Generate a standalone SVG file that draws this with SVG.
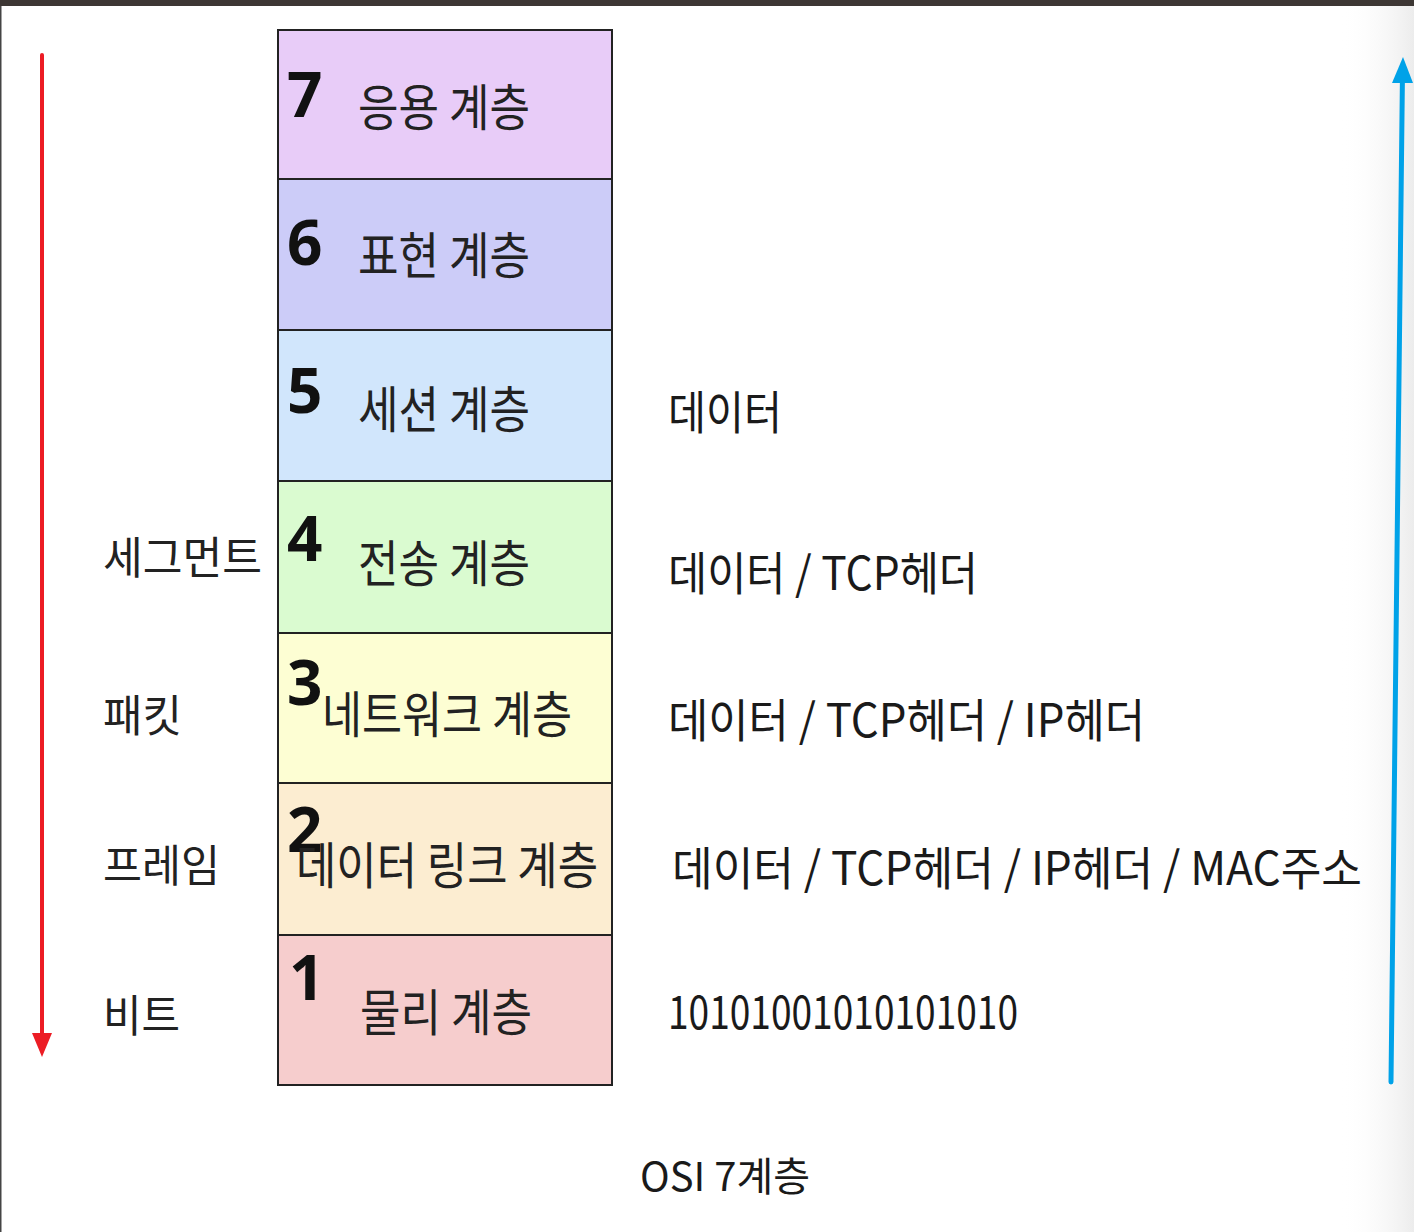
<svg xmlns="http://www.w3.org/2000/svg" width="1414" height="1232" viewBox="0 0 1414 1232">
  <defs>
    <style>
      .layer { stroke: #222; stroke-width: 2; }
      .num { font-family: "Noto Sans", "Liberation Sans", sans-serif; font-weight: bold; font-size: 62px; fill: #111; }
      .name { font-family: "Noto Sans CJK KR", "Noto Sans", sans-serif; font-size: 50px; fill: #222; }
      .side { font-family: "Noto Sans CJK KR", "Noto Sans", sans-serif; font-size: 44px; fill: #222; }
      .data { font-family: "Noto Sans CJK KR", "Noto Sans", sans-serif; font-size: 46px; fill: #1a1a1a; }
      .cap { font-family: "Noto Sans CJK KR", "Noto Sans", sans-serif; font-size: 40px; fill: #1a1a1a; }
    </style>
    <linearGradient id="edge" x1="0" y1="0" x2="1" y2="0">
      <stop offset="0" stop-color="#ffffff" stop-opacity="0"/>
      <stop offset="1" stop-color="#ececec" stop-opacity="1"/>
    </linearGradient>
  </defs>

  <rect x="0" y="0" width="1414" height="1232" fill="#ffffff"/>
  <rect x="1340" y="6" width="74" height="1226" fill="url(#edge)"/>
  <rect x="0" y="0" width="1414" height="6" fill="#3d3734"/>
  <rect x="0" y="6" width="1.5" height="1226" fill="#444"/>

  <g id="layer7">
    <rect class="layer" x="278" y="30" width="334" height="149" fill="#e8ccf8"/>
    <text class="num" x="287" y="117">7</text>
    <text class="name" x="358" y="126" textLength="172" lengthAdjust="spacingAndGlyphs">응용 계층</text>
  </g>
  <g id="layer6">
    <rect class="layer" x="278" y="179" width="334" height="151" fill="#ccccf8"/>
    <text class="num" x="287" y="265">6</text>
    <text class="name" x="358" y="274" textLength="172" lengthAdjust="spacingAndGlyphs">표현 계층</text>
  </g>
  <g id="layer5">
    <rect class="layer" x="278" y="330" width="334" height="151" fill="#d1e6fc"/>
    <text class="num" x="287" y="413">5</text>
    <text class="name" x="358" y="428" textLength="172" lengthAdjust="spacingAndGlyphs">세션 계층</text>
  </g>
  <g id="layer4">
    <rect class="layer" x="278" y="481" width="334" height="152" fill="#dafbd0"/>
    <text class="num" x="287" y="561">4</text>
    <text class="name" x="358" y="582" textLength="172" lengthAdjust="spacingAndGlyphs">전송 계층</text>
  </g>
  <g id="layer3">
    <rect class="layer" x="278" y="633" width="334" height="150" fill="#fdfed3"/>
    <text class="num" x="287" y="705">3</text>
    <text class="name" x="322" y="733" textLength="250" lengthAdjust="spacingAndGlyphs">네트워크 계층</text>
  </g>
  <g id="layer2">
    <rect class="layer" x="278" y="783" width="334" height="152" fill="#fcedd1"/>
    <text class="num" x="287" y="852">2</text>
    <text class="name" x="296" y="884" textLength="302" lengthAdjust="spacingAndGlyphs">데이터 링크 계층</text>
  </g>
  <g id="layer1">
    <rect class="layer" x="278" y="935" width="334" height="150" fill="#f6cdcd"/>
    <text class="num" x="289" y="1000">1</text>
    <text class="name" x="360" y="1031" textLength="172" lengthAdjust="spacingAndGlyphs">물리 계층</text>
  </g>

  <g id="pdu-labels">
    <text class="side" x="103" y="574" textLength="159" lengthAdjust="spacingAndGlyphs">세그먼트</text>
    <text class="side" x="103" y="732" textLength="79" lengthAdjust="spacingAndGlyphs">패킷</text>
    <text class="side" x="103" y="882" textLength="117" lengthAdjust="spacingAndGlyphs">프레임</text>
    <text class="side" x="103" y="1032" textLength="77" lengthAdjust="spacingAndGlyphs">비트</text>
  </g>

  <g id="data-labels">
    <text class="data" x="668" y="429" textLength="114" lengthAdjust="spacingAndGlyphs">데이터</text>
    <text class="data" x="668" y="590" textLength="310" lengthAdjust="spacingAndGlyphs">데이터 / TCP헤더</text>
    <text class="data" x="668" y="737" textLength="477" lengthAdjust="spacingAndGlyphs">데이터 / TCP헤더 / IP헤더</text>
    <text class="data" x="672" y="885" textLength="690" lengthAdjust="spacingAndGlyphs">데이터 / TCP헤더 / IP헤더 / MAC주소</text>
    <text class="data" x="668" y="1029" font-size="52" textLength="350" lengthAdjust="spacingAndGlyphs">10101001010101010</text>
  </g>

  <g id="connectors">
    <line x1="42" y1="55" x2="42" y2="1036" stroke="#ec1c24" stroke-width="4" stroke-linecap="round"/>
    <path d="M32,1033 L52,1033 L42,1057 Z" fill="#ec1c24"/>
    <line x1="1391" y1="1082" x2="1402.4" y2="80" stroke="#00a2e8" stroke-width="5" stroke-linecap="round"/>
    <path d="M1403,57 L1413,83 L1392,83 Z" fill="#00a2e8"/>
  </g>

  <text id="caption" class="cap" x="640" y="1191" textLength="170" lengthAdjust="spacingAndGlyphs">OSI 7계층</text>
</svg>
